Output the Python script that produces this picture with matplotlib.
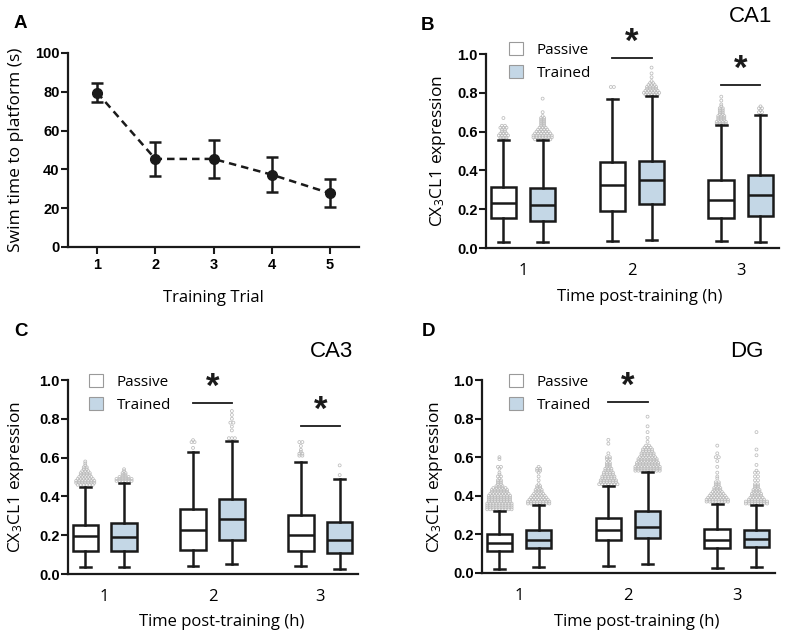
import matplotlib
matplotlib.use('Agg')
import matplotlib.pyplot as plt
from matplotlib.patches import Patch
import numpy as np

# 数据
trial = [1, 2, 3, 4, 5]
swim_time = [79.6, 45.4, 45.4, 37.3, 27.7]
swim_err = [4.8, 8.6, 9.8, 9.0, 7.1]

groups = [1, 2, 3]
group_labels = ['1', '2', '3']

# 箱线图统计值：顺序 1P, 1T, 2P, 2T, 3P, 3T
ca1_whislo = [0.031, 0.031, 0.036, 0.041, 0.034, 0.033]
ca1_q1 = [0.155, 0.138, 0.190, 0.228, 0.155, 0.164]
ca1_med = [0.231, 0.220, 0.324, 0.348, 0.248, 0.274]
ca1_q3 = [0.317, 0.307, 0.443, 0.448, 0.348, 0.376]
ca1_whishi = [0.555, 0.555, 0.770, 0.781, 0.634, 0.683]

ca3_whislo = [0.036, 0.036, 0.040, 0.050, 0.040, 0.024]
ca3_q1 = [0.116, 0.119, 0.125, 0.173, 0.118, 0.107]
ca3_med = [0.196, 0.189, 0.225, 0.284, 0.202, 0.173]
ca3_q3 = [0.251, 0.263, 0.334, 0.386, 0.304, 0.266]
ca3_whishi = [0.446, 0.467, 0.630, 0.685, 0.576, 0.490]

dg_whislo = [0.019, 0.030, 0.037, 0.047, 0.025, 0.030]
dg_q1 = [0.115, 0.130, 0.169, 0.181, 0.132, 0.135]
dg_med = [0.155, 0.172, 0.221, 0.240, 0.172, 0.175]
dg_q3 = [0.203, 0.223, 0.285, 0.320, 0.227, 0.225]
dg_whishi = [0.322, 0.350, 0.449, 0.523, 0.360, 0.350]

# 离群点：(数值, 个数)
ca1_out = [
    ([0.56, 0.57, 0.58, 0.59, 0.60, 0.61, 0.62, 0.63, 0.67], [3, 3, 4, 3, 2, 2, 3, 2, 1]),
    ([0.56, 0.57, 0.58, 0.59, 0.60, 0.61, 0.62, 0.63, 0.64, 0.65, 0.66, 0.67, 0.68, 0.70, 0.77],
     [6, 7, 7, 6, 5, 4, 3, 2, 2, 2, 2, 2, 1, 1, 1]),
    ([0.83], [2]),
    ([0.79, 0.80, 0.81, 0.82, 0.83, 0.84, 0.85, 0.86, 0.88, 0.90, 0.93], [5, 6, 5, 4, 4, 3, 2, 1, 1, 1, 1]),
    ([0.64, 0.65, 0.66, 0.67, 0.68, 0.69, 0.70, 0.71, 0.72, 0.73, 0.74, 0.76, 0.78],
     [4, 4, 3, 3, 3, 2, 2, 2, 2, 1, 1, 1, 1]),
    ([0.70, 0.71, 0.72, 0.73], [2, 1, 2, 1]),
]
ca3_out = [
    ([0.46, 0.47, 0.48, 0.49, 0.50, 0.51, 0.52, 0.53, 0.54, 0.55, 0.56, 0.57, 0.58],
     [6, 7, 7, 6, 5, 4, 4, 3, 2, 2, 1, 1, 1]),
    ([0.48, 0.49, 0.50, 0.51, 0.52, 0.53, 0.54], [6, 6, 4, 2, 2, 1, 1]),
    ([0.65, 0.68, 0.69], [1, 2, 1]),
    ([0.70, 0.74, 0.76, 0.78, 0.80, 0.82, 0.84], [3, 1, 1, 2, 1, 1, 1]),
    ([0.61, 0.62, 0.63, 0.64, 0.66, 0.68], [2, 2, 1, 1, 1, 2]),
    ([0.51, 0.56], [1, 1]),
]
dg_out = [
    ([0.33, 0.34, 0.35, 0.36, 0.37, 0.38, 0.39, 0.40, 0.41, 0.42, 0.43, 0.44, 0.45, 0.46, 0.47,
      0.48, 0.49, 0.50, 0.51, 0.52, 0.54, 0.55, 0.59, 0.60],
     [9, 9, 9, 9, 8, 8, 8, 8, 7, 6, 6, 5, 3, 2, 2, 2, 1, 2, 1, 1, 1, 2, 1, 1]),
    ([0.36, 0.37, 0.38, 0.39, 0.40, 0.41, 0.42, 0.43, 0.44, 0.45, 0.46, 0.48, 0.50, 0.52, 0.53, 0.54, 0.55],
     [8, 8, 7, 6, 5, 4, 3, 3, 2, 2, 1, 1, 1, 1, 2, 2, 1]),
    ([0.46, 0.47, 0.48, 0.49, 0.50, 0.51, 0.52, 0.53, 0.54, 0.55, 0.56, 0.57, 0.58, 0.59, 0.60, 0.62, 0.67, 0.69],
     [7, 6, 6, 5, 5, 4, 4, 3, 3, 2, 2, 2, 1, 2, 2, 1, 1, 1]),
    ([0.53, 0.54, 0.55, 0.56, 0.57, 0.58, 0.59, 0.60, 0.61, 0.62, 0.63, 0.64, 0.65, 0.66, 0.68, 0.70, 0.73, 0.76, 0.81],
     [9, 9, 9, 8, 8, 7, 7, 6, 5, 5, 4, 4, 3, 2, 1, 1, 1, 1, 1]),
    ([0.37, 0.38, 0.39, 0.40, 0.41, 0.42, 0.43, 0.44, 0.45, 0.46, 0.47, 0.49, 0.50, 0.52, 0.55, 0.58, 0.60, 0.62, 0.66],
     [8, 8, 7, 6, 5, 4, 3, 3, 2, 2, 2, 1, 1, 1, 1, 1, 2, 1, 1]),
    ([0.36, 0.37, 0.38, 0.39, 0.40, 0.41, 0.42, 0.43, 0.44, 0.45, 0.46, 0.48, 0.50, 0.52, 0.53, 0.56, 0.61, 0.64, 0.73],
     [8, 8, 6, 5, 4, 4, 3, 3, 2, 2, 2, 2, 2, 2, 1, 1, 1, 1, 1]),
]

# 显著性标记：(组, 高度)
ca1_sig = [(2, 0.98), (3, 0.84)]
ca3_sig = [(2, 0.882), (3, 0.765)]
dg_sig = [(2, 0.885)]

W, H = 786, 639
blue = '#c4d7e6'
dark = '#1a1a1a'
bold_font = 'Liberation Sans'
text_font = 'Open Sans'

plt.rcParams['mathtext.fontset'] = 'custom'
plt.rcParams['mathtext.rm'] = text_font
plt.rcParams['mathtext.it'] = text_font

fig = plt.figure(figsize=(W / 100, H / 100), dpi=100)


def px_rect(x0, y0, x1, y1):
    return [x0 / W, 1 - y1 / H, (x1 - x0) / W, (y1 - y0) / H]


def fig_text(x, y, s, **kw):
    fig.text(x / W, 1 - y / H, s, **kw)


def style_axes(ax):
    for side in ['top', 'right']:
        ax.spines[side].set_visible(False)
    for side in ['left', 'bottom']:
        ax.spines[side].set_linewidth(1.6)
        ax.spines[side].set_color(dark)
    ax.tick_params(axis='y', length=5, width=1.5, pad=1, color=dark)
    for lab in ax.get_yticklabels():
        lab.set_fontfamily(bold_font)
        lab.set_fontweight('bold')
        lab.set_fontsize(10.5)


def swarm(vals, center, step=0.028):
    xs, ys = [], []
    for v, n in zip(*vals):
        for i in range(n):
            xs.append(center + (i - (n - 1) / 2) * step)
            ys.append(v)
    return xs, ys


def box_panel(ax, whislo, q1, med, q3, whishi, outs, sigs):
    pos = []
    for g in groups:
        pos += [g - 0.18, g + 0.18]
    stats = []
    for i in range(6):
        stats.append(dict(whislo=whislo[i], q1=q1[i], med=med[i], q3=q3[i], whishi=whishi[i], fliers=[]))
    for i in range(6):
        xs, ys = swarm(outs[i], pos[i])
        ax.scatter(xs, ys, s=4.5, facecolors='none', edgecolors='#bcbcbc', linewidths=0.55, zorder=1)
    bp = ax.bxp(stats, positions=pos, widths=0.235, showfliers=False, patch_artist=True,
                capwidths=0.1,
                boxprops=dict(linewidth=1.8, edgecolor=dark),
                medianprops=dict(linewidth=1.8, color=dark),
                whiskerprops=dict(linewidth=1.8, color=dark),
                capprops=dict(linewidth=1.8, color=dark))
    for i, b in enumerate(bp['boxes']):
        b.set_facecolor('white' if i % 2 == 0 else blue)
        b.set_zorder(2)
    for g, h in sigs:
        ax.plot([g - 0.18, g + 0.18], [h, h], color=dark, lw=1.3, clip_on=False)
        ax.text(g, h - 0.005, '*', ha='center', va='bottom', fontsize=25, fontweight='bold',
                family=bold_font, color=dark, clip_on=False)
    ax.set_xlim(0.66, 3.35)
    ax.set_ylim(0, 1.0)
    ax.set_yticks([0.0, 0.2, 0.4, 0.6, 0.8, 1.0])
    ax.set_yticklabels(['0.0', '0.2', '0.4', '0.6', '0.8', '1.0'])
    ax.set_xticks(groups)
    ax.set_xticklabels(group_labels, fontfamily=text_font, fontsize=12)
    ax.tick_params(axis='x', length=0, pad=11)
    style_axes(ax)
    handles = [Patch(facecolor='white', edgecolor='#9a9a9a', lw=0.8),
               Patch(facecolor=blue, edgecolor='#9a9a9a', lw=0.8)]
    return handles


# A
axA = fig.add_axes(px_rect(68, 53, 359, 247))
axA.errorbar(trial, swim_time, yerr=swim_err, fmt='o', color=dark, markersize=7,
             elinewidth=1.8, capsize=4, capthick=1.8, zorder=3)
axA.plot(trial, swim_time, ls=(0, (3, 2)), color=dark, lw=1.8)
axA.set_xlim(0.5, 5.5)
axA.set_ylim(0, 100)
axA.set_yticks([0, 20, 40, 60, 80, 100])
axA.set_xticks(trial)
axA.set_xticklabels([str(t) for t in trial], fontfamily=bold_font, fontweight='bold', fontsize=10.5)
axA.tick_params(axis='x', length=5, width=1.5, pad=3, color=dark)
style_axes(axA)

# B, C, D
axB = fig.add_axes(px_rect(486, 54, 779, 248))
hB = box_panel(axB, ca1_whislo, ca1_q1, ca1_med, ca1_q3, ca1_whishi, ca1_out, ca1_sig)
axC = fig.add_axes(px_rect(68, 380, 358, 574))
hC = box_panel(axC, ca3_whislo, ca3_q1, ca3_med, ca3_q3, ca3_whishi, ca3_out, ca3_sig)
axD = fig.add_axes(px_rect(482, 380, 775, 573))
hD = box_panel(axD, dg_whislo, dg_q1, dg_med, dg_q3, dg_whishi, dg_out, dg_sig)

for h, (lx, ly) in zip([hB, hC, hD], [(509, 42), (89, 374), (509, 374)]):
    fig.legend(h, ['Passive', 'Trained'], loc='upper left', bbox_to_anchor=(lx / W, 1 - ly / H),
               frameon=False, borderpad=0, borderaxespad=0, handlelength=0.9, handleheight=0.9,
               handletextpad=0.9, labelspacing=0.5, prop={'family': text_font, 'size': 11})

# 文字
ylab = 'CX$_3$CL1 expression'
fig_text(16, 150, 'Swim time to platform (s)', rotation=90, ha='center', va='center',
         fontfamily=text_font, fontsize=12.5)
fig_text(213, 298, 'Training Trial', ha='center', va='center', fontfamily=text_font, fontsize=12)
fig_text(438, 151, ylab, rotation=90, ha='center', va='center', fontfamily=text_font, fontsize=12.5)
fig_text(640, 297, 'Time post-training (h)', ha='center', va='center', fontfamily=text_font, fontsize=12)
fig_text(16, 477, ylab, rotation=90, ha='center', va='center', fontfamily=text_font, fontsize=12.5)
fig_text(222, 622, 'Time post-training (h)', ha='center', va='center', fontfamily=text_font, fontsize=12)
fig_text(435, 477, ylab, rotation=90, ha='center', va='center', fontfamily=text_font, fontsize=12.5)
fig_text(637, 622, 'Time post-training (h)', ha='center', va='center', fontfamily=text_font, fontsize=12)

for s, x, y in [('CA1', 772, 16), ('CA3', 353, 351), ('DG', 764, 351)]:
    fig_text(x, y, s, ha='right', va='center', fontfamily=bold_font, fontsize=16)

for s, x, y in [('A', 14, 24), ('B', 421, 25), ('C', 14, 331), ('D', 422, 331)]:
    fig_text(x, y, s, ha='left', va='center', fontfamily=bold_font, fontweight='bold', fontsize=13.5)

plt.savefig('out.png', dpi=100)
